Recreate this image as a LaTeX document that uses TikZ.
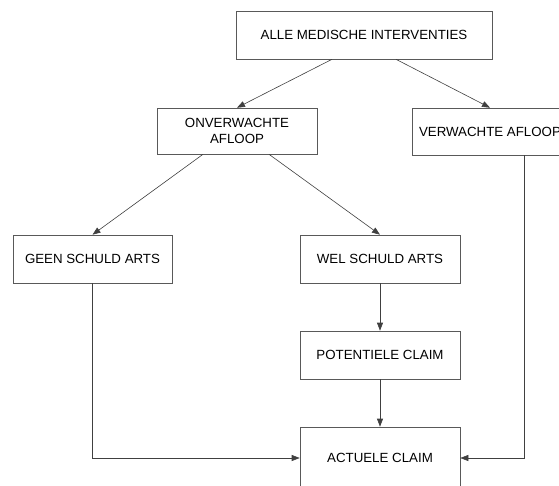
\documentclass[tikz,border=0pt]{standalone}
\usepackage{fontspec}
\setmainfont{Liberation Sans}
\usetikzlibrary{arrows.meta,calc}
\begin{document}
\begin{tikzpicture}[x=1pt,y=-1pt,
  box/.style={draw=black!65, line width=0.6pt, fill=white, align=center,
    inner sep=0pt, font=\fontsize{13.3}{15.5}\selectfont},
  conn/.style={draw=black!75, line width=0.6pt},
  arr/.style={conn, -{Triangle[length=8pt,width=6pt]}}]
  \useasboundingbox (0,0) rectangle (559,486);
  \clip (0,0) rectangle (559,486);

  % boxes
  \node[box, minimum width=256pt, minimum height=48pt] (alle) at (364,35) {ALLE MEDISCHE INTERVENTIES};
  \node[box, minimum width=160pt, minimum height=46pt] (onv) at (237,131) {ONVERWACHTE\\AFLOOP};
  \node[box, minimum width=156pt, minimum height=47pt] (verw) at (490,131.5) {VERWACHTE AFLOOP};
  \node[box, minimum width=159pt, minimum height=48pt] (geen) at (92.5,259) {GEEN SCHULD ARTS};
  \node[box, minimum width=160pt, minimum height=48pt] (wel) at (380,259) {WEL SCHULD ARTS};
  \node[box, minimum width=160pt, minimum height=48pt] (pot) at (380,355) {POTENTIELE CLAIM};
  \node[box, minimum width=160pt, minimum height=62pt] (act) at (380,458) {ACTUELE CLAIM};

  % connectors
  \draw[arr] ([xshift=-32pt]alle.south) -- (onv.north);
  \draw[arr] ([xshift=32pt]alle.south) -- (verw.north);
  \draw[arr] ([xshift=-34pt]onv.south) -- (geen.north);
  \draw[arr] ([xshift=32pt]onv.south) -- (wel.north);
  \draw[arr] (wel.south) -- (pot.north);
  \draw[arr] (pot.south) -- (act.north);
  \draw[arr] (geen.south) |- (act.west);
  \draw[arr] ([xshift=34pt]verw.south) |- (act.east);
\end{tikzpicture}
\end{document}
